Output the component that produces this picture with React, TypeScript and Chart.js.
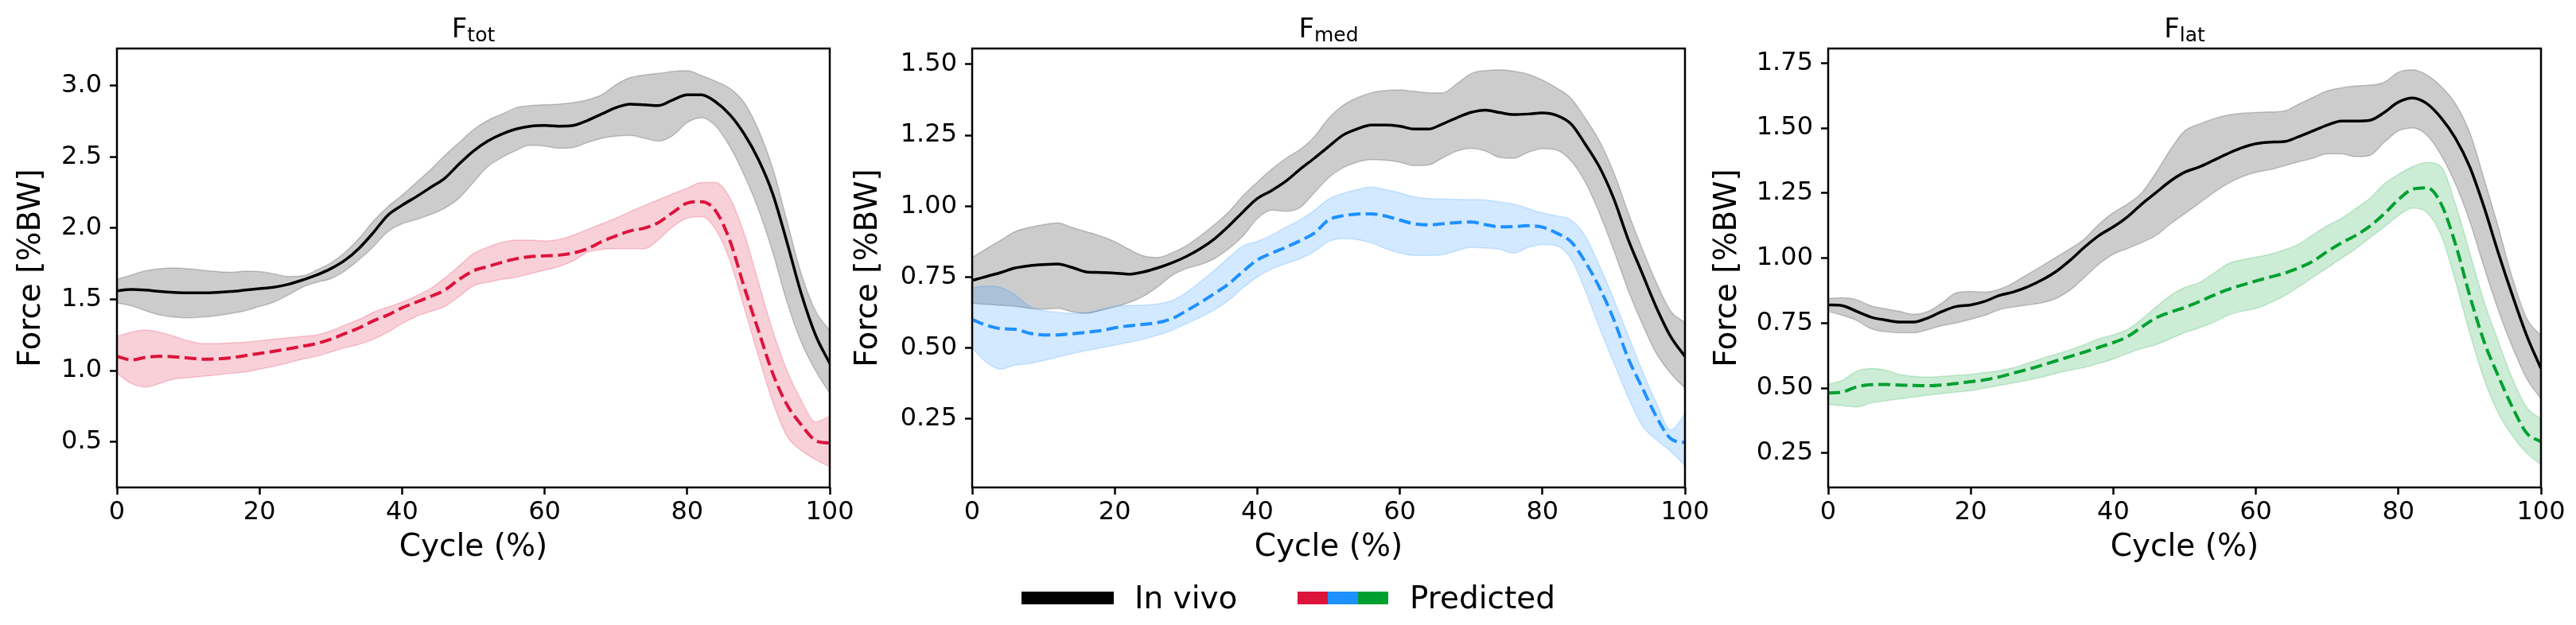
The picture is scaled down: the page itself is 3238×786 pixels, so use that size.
import React, { useEffect, useRef } from "react";
import { Chart, registerables } from "chart.js";

Chart.register(...registerables);

// ---------------- data ----------------
const CYCLE = [0, 2, 4, 6, 8, 10, 12, 14, 16, 18, 20, 22, 24, 26, 28, 30, 32, 34, 36, 38, 40, 42, 44, 46, 48, 50, 52, 54, 56, 58, 60, 62, 64, 66, 68, 70, 72, 74, 76, 78, 80, 82, 84, 86, 88, 90, 92, 94, 96, 98, 100];

const TOT_INVIVO_MEAN = [1.56, 1.57, 1.565, 1.555, 1.548, 1.545, 1.545, 1.548, 1.555, 1.565, 1.575, 1.585, 1.605, 1.635, 1.67, 1.715, 1.775, 1.86, 1.97, 2.09, 2.16, 2.22, 2.285, 2.35, 2.45, 2.54, 2.61, 2.66, 2.695, 2.715, 2.72, 2.715, 2.72, 2.755, 2.8, 2.845, 2.87, 2.865, 2.86, 2.9, 2.935, 2.935, 2.885, 2.795, 2.66, 2.48, 2.24, 1.9, 1.54, 1.25, 1.05];
const TOT_INVIVO_UPPER = [1.64, 1.67, 1.7, 1.715, 1.72, 1.715, 1.705, 1.695, 1.69, 1.698, 1.695, 1.68, 1.66, 1.665, 1.705, 1.755, 1.83, 1.93, 2.05, 2.15, 2.23, 2.32, 2.41, 2.51, 2.6, 2.69, 2.755, 2.8, 2.845, 2.86, 2.865, 2.87, 2.88, 2.9, 2.935, 3.006, 3.056, 3.075, 3.085, 3.1, 3.105, 3.07, 3.03, 2.98, 2.88, 2.69, 2.42, 2.05, 1.68, 1.42, 1.28];
const TOT_INVIVO_LOWER = [1.475, 1.455, 1.42, 1.39, 1.375, 1.37, 1.375, 1.385, 1.4, 1.42, 1.45, 1.48, 1.53, 1.585, 1.62, 1.645, 1.7, 1.78, 1.87, 1.975, 2.03, 2.06, 2.095, 2.14, 2.21, 2.32, 2.43, 2.495, 2.545, 2.58, 2.575, 2.56, 2.565, 2.6, 2.63, 2.645, 2.65, 2.63, 2.61, 2.65, 2.74, 2.775, 2.715, 2.57, 2.37, 2.13, 1.83, 1.48, 1.2, 1.0, 0.84];
const TOT_PRED_MEAN = [1.1, 1.075, 1.092, 1.1, 1.097, 1.088, 1.08, 1.082, 1.09, 1.105, 1.12, 1.135, 1.152, 1.17, 1.19, 1.22, 1.26, 1.3, 1.35, 1.39, 1.44, 1.48, 1.52, 1.565, 1.64, 1.7, 1.73, 1.76, 1.785, 1.8, 1.805, 1.81, 1.825, 1.855, 1.905, 1.945, 1.98, 2.0, 2.04, 2.11, 2.175, 2.185, 2.12, 1.91, 1.585, 1.28, 0.98, 0.76, 0.62, 0.51, 0.49];
const TOT_PRED_UPPER = [1.24, 1.27, 1.285, 1.27, 1.24, 1.21, 1.19, 1.19, 1.195, 1.2, 1.21, 1.22, 1.23, 1.24, 1.25, 1.28, 1.32, 1.36, 1.41, 1.445, 1.48, 1.525, 1.575, 1.65, 1.735, 1.82, 1.865, 1.9, 1.915, 1.915, 1.91, 1.92, 1.95, 1.99, 2.03, 2.07, 2.115, 2.16, 2.2, 2.24, 2.28, 2.32, 2.32, 2.21, 1.96, 1.62, 1.28, 1.0, 0.79, 0.64, 0.68];
const TOT_PRED_LOWER = [0.98, 0.91, 0.885, 0.91, 0.94, 0.95, 0.96, 0.97, 0.98, 0.99, 1.01, 1.03, 1.055, 1.08, 1.1, 1.13, 1.16, 1.185, 1.22, 1.27, 1.33, 1.38, 1.415, 1.45, 1.52, 1.595, 1.62, 1.64, 1.655, 1.68, 1.705, 1.73, 1.77, 1.83, 1.85, 1.855, 1.855, 1.855, 1.92, 2.01, 2.07, 2.08, 1.99, 1.77, 1.44, 1.1, 0.78, 0.54, 0.44, 0.375, 0.325];

const MED_INVIVO_MEAN = [0.738, 0.752, 0.766, 0.782, 0.79, 0.794, 0.796, 0.784, 0.768, 0.766, 0.764, 0.76, 0.768, 0.782, 0.8, 0.822, 0.85, 0.885, 0.93, 0.98, 1.027, 1.055, 1.088, 1.13, 1.169, 1.21, 1.25, 1.272, 1.286, 1.286, 1.282, 1.272, 1.272, 1.29, 1.312, 1.331, 1.339, 1.33, 1.323, 1.325, 1.329, 1.32, 1.29, 1.219, 1.138, 1.027, 0.885, 0.763, 0.642, 0.54, 0.47];
const MED_INVIVO_UPPER = [0.819, 0.85, 0.88, 0.91, 0.925, 0.935, 0.941, 0.925, 0.91, 0.895, 0.875, 0.848, 0.825, 0.819, 0.835, 0.86, 0.895, 0.935, 0.98, 1.037, 1.085, 1.13, 1.169, 1.2, 1.245, 1.31, 1.355, 1.382, 1.4, 1.408, 1.41, 1.405, 1.4, 1.4, 1.432, 1.468, 1.478, 1.481, 1.476, 1.465, 1.445, 1.417, 1.381, 1.311, 1.23, 1.12, 0.98, 0.85, 0.73, 0.63, 0.59];
const MED_INVIVO_LOWER = [0.657, 0.654, 0.65, 0.647, 0.64, 0.637, 0.64, 0.628, 0.622, 0.632, 0.645, 0.66, 0.682, 0.715, 0.755, 0.78, 0.794, 0.815, 0.85, 0.895, 0.956, 0.986, 0.982, 0.995, 1.047, 1.1, 1.135, 1.155, 1.164, 1.162, 1.155, 1.143, 1.145, 1.17, 1.194, 1.204, 1.194, 1.172, 1.169, 1.19, 1.203, 1.198, 1.16, 1.085, 0.975, 0.845, 0.705, 0.585, 0.48, 0.41, 0.358];
const MED_PRED_MEAN = [0.6, 0.58, 0.568, 0.566, 0.552, 0.546, 0.546, 0.55, 0.555, 0.561, 0.571, 0.578, 0.583, 0.589, 0.603, 0.63, 0.66, 0.692, 0.726, 0.77, 0.81, 0.834, 0.855, 0.878, 0.905, 0.951, 0.966, 0.972, 0.973, 0.965, 0.951, 0.938, 0.934, 0.938, 0.942, 0.944, 0.935, 0.927, 0.928, 0.931, 0.926, 0.905, 0.875, 0.804, 0.713, 0.601, 0.465, 0.36, 0.257, 0.18, 0.166];
const MED_PRED_UPPER = [0.713, 0.718, 0.713, 0.688, 0.647, 0.632, 0.626, 0.622, 0.624, 0.635, 0.647, 0.65, 0.651, 0.655, 0.667, 0.695, 0.733, 0.774, 0.819, 0.86, 0.876, 0.898, 0.926, 0.952, 0.985, 1.025, 1.045, 1.058, 1.067, 1.058, 1.047, 1.033, 1.027, 1.025, 1.024, 1.023, 1.022, 1.015, 1.007, 0.992, 0.976, 0.966, 0.951, 0.895, 0.79, 0.672, 0.545, 0.42, 0.305, 0.21, 0.267];
const MED_PRED_LOWER = [0.5, 0.449, 0.425, 0.439, 0.445, 0.455, 0.468, 0.48, 0.49, 0.5, 0.51, 0.52, 0.53, 0.545, 0.562, 0.585, 0.608, 0.635, 0.668, 0.712, 0.75, 0.778, 0.797, 0.815, 0.84, 0.875, 0.886, 0.882, 0.87, 0.85, 0.835, 0.826, 0.826, 0.829, 0.843, 0.855, 0.852, 0.848, 0.834, 0.855, 0.865, 0.86, 0.814, 0.703, 0.571, 0.449, 0.328, 0.226, 0.176, 0.135, 0.085];

const LAT_INVIVO_MEAN = [0.82, 0.817, 0.795, 0.773, 0.762, 0.754, 0.754, 0.77, 0.795, 0.814, 0.82, 0.834, 0.856, 0.87, 0.89, 0.916, 0.949, 0.993, 1.043, 1.087, 1.12, 1.159, 1.208, 1.252, 1.296, 1.33, 1.35, 1.375, 1.401, 1.424, 1.44, 1.446, 1.448, 1.467, 1.489, 1.511, 1.527, 1.527, 1.53, 1.56, 1.6, 1.616, 1.594, 1.539, 1.461, 1.351, 1.197, 1.021, 0.856, 0.702, 0.575];
const LAT_INVIVO_UPPER = [0.845, 0.847, 0.84, 0.817, 0.805, 0.795, 0.784, 0.795, 0.828, 0.867, 0.872, 0.869, 0.88, 0.905, 0.938, 0.97, 1.004, 1.037, 1.075, 1.131, 1.175, 1.208, 1.252, 1.329, 1.417, 1.489, 1.515, 1.535, 1.55, 1.557, 1.56, 1.562, 1.566, 1.592, 1.618, 1.643, 1.655, 1.662, 1.665, 1.676, 1.715, 1.724, 1.704, 1.66, 1.594, 1.483, 1.307, 1.12, 0.922, 0.768, 0.702];
const LAT_INVIVO_LOWER = [0.795, 0.78, 0.76, 0.729, 0.717, 0.713, 0.713, 0.725, 0.74, 0.751, 0.765, 0.78, 0.801, 0.812, 0.82, 0.828, 0.845, 0.878, 0.927, 0.977, 1.015, 1.037, 1.06, 1.087, 1.131, 1.17, 1.21, 1.25, 1.285, 1.312, 1.33, 1.34, 1.355, 1.37, 1.384, 1.401, 1.401, 1.39, 1.395, 1.445, 1.489, 1.5, 1.472, 1.395, 1.285, 1.142, 0.966, 0.801, 0.657, 0.536, 0.459];
const LAT_PRED_MEAN = [0.481, 0.485, 0.505, 0.513, 0.514, 0.512, 0.51, 0.509, 0.512, 0.518, 0.525, 0.532, 0.543, 0.558, 0.572, 0.588, 0.605, 0.622, 0.639, 0.657, 0.675, 0.698, 0.735, 0.77, 0.792, 0.81, 0.832, 0.856, 0.878, 0.896, 0.912, 0.927, 0.942, 0.962, 0.988, 1.025, 1.058, 1.087, 1.123, 1.17, 1.225, 1.265, 1.27, 1.208, 1.054, 0.856, 0.68, 0.547, 0.426, 0.327, 0.294];
const LAT_PRED_UPPER = [0.514, 0.53, 0.565, 0.575, 0.57, 0.552, 0.545, 0.542, 0.545, 0.549, 0.553, 0.56, 0.567, 0.578, 0.596, 0.614, 0.631, 0.648, 0.668, 0.69, 0.705, 0.725, 0.765, 0.812, 0.856, 0.887, 0.905, 0.94, 0.977, 0.993, 1.004, 1.015, 1.032, 1.054, 1.09, 1.124, 1.153, 1.19, 1.23, 1.285, 1.322, 1.352, 1.368, 1.351, 1.208, 1.021, 0.834, 0.68, 0.536, 0.426, 0.382];
const LAT_PRED_LOWER = [0.437, 0.432, 0.428, 0.443, 0.451, 0.459, 0.466, 0.473, 0.479, 0.485, 0.49, 0.5, 0.51, 0.52, 0.531, 0.542, 0.557, 0.569, 0.58, 0.595, 0.612, 0.633, 0.652, 0.667, 0.69, 0.713, 0.731, 0.752, 0.779, 0.795, 0.806, 0.828, 0.855, 0.889, 0.926, 0.962, 0.999, 1.036, 1.078, 1.12, 1.164, 1.192, 1.175, 1.087, 0.911, 0.713, 0.536, 0.404, 0.316, 0.25, 0.206];

const TITLE_MAIN = ["F", "F", "F"];
const TITLE_SUB = ["tot", "med", "lat"];
const X_LABEL = "Cycle (%)";
const Y_LABEL = "Force [%BW]";
const X_TICK_STEP = 20;
const Y_MIN = [0.18, 0.008, 0.118];
const Y_MAX = [3.26, 1.556, 1.806];
const Y_STEP = [0.5, 0.25, 0.25];
const Y_DECIMALS = [1, 2, 2];
const LEGEND_LABELS = ["In vivo", "Predicted"];
const PRED_COLORS = ["#DC143C", "#1E90FF", "#00A030"];
const INVIVO_COLOR = "#000000";

// ---------------- layout ----------------
const FIG_W = 3238;
const FIG_H = 786;
const FONT = "'DejaVu Sans', 'Liberation Sans', sans-serif";
const PLOT_LEFT = [147, 1222, 2298];
const PLOT_W = 896;
const PLOT_TOP = 61;
const PLOT_BOTTOM = 613;
const Y_AXIS_W = [147, 170, 166];
const RIGHT_PAD = 40;

const SERIES = [
  [TOT_INVIVO_MEAN, TOT_INVIVO_UPPER, TOT_INVIVO_LOWER, TOT_PRED_MEAN, TOT_PRED_UPPER, TOT_PRED_LOWER],
  [MED_INVIVO_MEAN, MED_INVIVO_UPPER, MED_INVIVO_LOWER, MED_PRED_MEAN, MED_PRED_UPPER, MED_PRED_LOWER],
  [LAT_INVIVO_MEAN, LAT_INVIVO_UPPER, LAT_INVIVO_LOWER, LAT_PRED_MEAN, LAT_PRED_UPPER, LAT_PRED_LOWER],
];

function alpha(hex: string, a: number) {
  const n = parseInt(hex.slice(1), 16);
  return `rgba(${(n >> 16) & 255},${(n >> 8) & 255},${n & 255},${a})`;
}

const toPts = (ys: number[]) => ys.map((y, i) => ({ x: CYCLE[i], y }));

const framePlugin = {
  id: "frame",
  afterDatasetsDraw(chart: any) {
    const { ctx, chartArea } = chart;
    ctx.save();
    ctx.strokeStyle = "#000";
    ctx.lineWidth = 2.5;
    ctx.strokeRect(chartArea.left, chartArea.top, chartArea.right - chartArea.left, chartArea.bottom - chartArea.top);
    ctx.restore();
  },
};

function Panel({ idx }: { idx: number }) {
  const ref = useRef<HTMLCanvasElement>(null);
  const yW = Y_AXIS_W[idx];
  const left = PLOT_LEFT[idx] - yW;
  const width = yW + PLOT_W + RIGHT_PAD;

  useEffect(() => {
    const [im, iu, il, pm, pu, pl] = SERIES[idx];
    const col = PRED_COLORS[idx];
    const band = alpha(INVIVO_COLOR, 0.2);
    const pband = alpha(col, 0.2);
    const tickFont = { family: FONT, size: 32 };
    const labelFont = { family: FONT, size: 39 };
    const grid = {
      drawOnChartArea: false,
      drawTicks: true,
      tickLength: 9,
      tickWidth: 2.5,
      tickColor: "#000",
    };
    const chart = new Chart(ref.current as HTMLCanvasElement, {
      type: "line",
      data: {
        datasets: [
          { label: "in vivo upper", data: toPts(iu), borderColor: band, backgroundColor: band, borderWidth: 1.5, fill: "+1", pointRadius: 0, order: 6 },
          { label: "in vivo lower", data: toPts(il), borderColor: band, borderWidth: 1.5, fill: false, pointRadius: 0, order: 5 },
          { label: "pred upper", data: toPts(pu), borderColor: pband, backgroundColor: pband, borderWidth: 1.5, fill: "+1", pointRadius: 0, order: 4 },
          { label: "pred lower", data: toPts(pl), borderColor: pband, borderWidth: 1.5, fill: false, pointRadius: 0, order: 3 },
          { label: LEGEND_LABELS[0], data: toPts(im), borderColor: INVIVO_COLOR, borderWidth: 3.5, fill: false, pointRadius: 0, order: 2 },
          { label: LEGEND_LABELS[1], data: toPts(pm), borderColor: col, borderWidth: 4, borderDash: [15, 6.5], fill: false, pointRadius: 0, order: 1 },
        ] as any,
      },
      options: {
        animation: false,
        responsive: false,
        devicePixelRatio: 1,
        layout: { padding: { top: PLOT_TOP, right: RIGHT_PAD, bottom: 0, left: 0 } },
        elements: { line: { cubicInterpolationMode: "monotone" }, point: { radius: 0 } },
        plugins: { legend: { display: false }, tooltip: { enabled: false }, title: { display: false } },
        scales: {
          x: {
            type: "linear",
            min: 0,
            max: 100,
            ticks: { stepSize: X_TICK_STEP, color: "#000", font: tickFont, padding: 3, maxRotation: 0, includeBounds: false },
            grid,
            border: { display: false },
            title: { display: true, text: X_LABEL, color: "#000", font: labelFont, padding: { top: 0, bottom: 74 } },
            afterFit: (s: any) => {
              s.height = FIG_H - PLOT_BOTTOM;
            },
          },
          y: {
            type: "linear",
            min: Y_MIN[idx],
            max: Y_MAX[idx],
            ticks: {
              stepSize: Y_STEP[idx],
              color: "#000",
              font: tickFont,
              padding: 10,
              includeBounds: false,
              callback: (v: any) => Number(v).toFixed(Y_DECIMALS[idx]),
            },
            grid,
            border: { display: false },
            title: { display: true, text: Y_LABEL, color: "#000", font: labelFont, padding: { top: 16, bottom: 0 } },
            afterFit: (s: any) => {
              s.width = yW;
            },
          },
        },
      } as any,
      plugins: [framePlugin],
    });
    return () => chart.destroy();
  }, [idx]);

  return (
    <canvas
      ref={ref}
      width={width}
      height={FIG_H}
      style={{ position: "absolute", left, top: 0, width, height: FIG_H }}
    />
  );
}

function Title({ idx }: { idx: number }) {
  return (
    <div
      style={{
        position: "absolute",
        left: PLOT_LEFT[idx],
        width: PLOT_W,
        top: 18,
        textAlign: "center",
        fontFamily: FONT,
        fontSize: 34,
        lineHeight: "34px",
        color: "#000",
        whiteSpace: "nowrap",
      }}
    >
      {TITLE_MAIN[idx]}
      <span style={{ fontSize: 25, verticalAlign: "-5px" }}>{TITLE_SUB[idx]}</span>
    </div>
  );
}

function Legend() {
  const text = {
    position: "absolute" as const,
    top: 732,
    fontFamily: FONT,
    fontSize: 39,
    lineHeight: "39px",
    color: "#000",
    whiteSpace: "nowrap" as const,
  };
  return (
    <>
      <div style={{ position: "absolute", left: 1284, top: 744, width: 116, height: 16, background: INVIVO_COLOR }} />
      <div style={{ ...text, left: 1426 }}>{LEGEND_LABELS[0]}</div>
      <div style={{ position: "absolute", left: 1631, top: 744, display: "flex" }}>
        {PRED_COLORS.map((c) => (
          <div key={c} style={{ width: 38, height: 16, background: c }} />
        ))}
      </div>
      <div style={{ ...text, left: 1772 }}>{LEGEND_LABELS[1]}</div>
    </>
  );
}

export default function App() {
  return (
    <div
      style={{
        position: "fixed",
        left: 0,
        top: 0,
        width: FIG_W,
        height: FIG_H,
        background: "#fff",
        overflow: "hidden",
      }}
    >
      {[0, 1, 2].map((i) => (
        <Panel key={i} idx={i} />
      ))}
      {[0, 1, 2].map((i) => (
        <Title key={"t" + i} idx={i} />
      ))}
      <Legend />
    </div>
  );
}
